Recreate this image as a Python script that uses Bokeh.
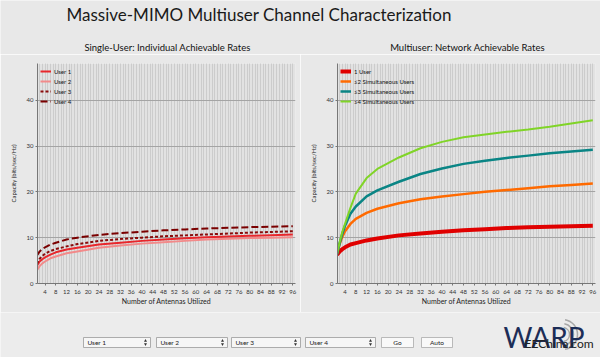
from bokeh.plotting import figure
from bokeh.models import Range1d, FixedTicker
from bokeh.layouts import column, row
from bokeh.core.properties import value
from bokeh.embed import file_html
from bokeh.resources import INLINE

FONT = "Lato"

# ---------------- data ----------------
antennas = [1, 2, 3, 4, 6, 8, 12, 16, 24, 32, 40, 48, 56, 64, 72, 80, 88, 96]

user1 = [3.9, 4.8, 5.3, 5.7, 6.3, 6.8, 7.4, 7.8, 8.5, 8.9, 9.3, 9.6, 9.85, 10.1, 10.25, 10.4, 10.55, 10.7]
user2 = [2.9, 3.8, 4.4, 4.8, 5.5, 5.9, 6.6, 7.0, 7.8, 8.3, 8.7, 9.0, 9.3, 9.6, 9.75, 9.9, 10.0, 10.1]
user3 = [4.3, 5.4, 6.0, 6.5, 7.1, 7.5, 8.1, 8.6, 9.3, 9.7, 10.0, 10.3, 10.5, 10.7, 10.9, 11.1, 11.25, 11.4]
user4 = [6.1, 7.0, 7.5, 7.9, 8.5, 8.9, 9.6, 10.0, 10.6, 11.0, 11.3, 11.6, 11.8, 12.0, 12.15, 12.3, 12.4, 12.5]

net1 = [6.25, 7.0, 7.5, 7.9, 8.5, 8.8, 9.4, 9.8, 10.5, 10.9, 11.3, 11.6, 11.85, 12.1, 12.25, 12.4, 12.5, 12.6]
net2 = [6.5, 8.6, 10.2, 11.4, 13.0, 14.1, 15.4, 16.3, 17.5, 18.4, 19.0, 19.5, 20.0, 20.4, 20.8, 21.2, 21.5, 21.8]
net3 = [6.3, 8.8, 10.9, 12.6, 15.2, 16.8, 19.0, 20.3, 22.2, 23.9, 25.1, 26.1, 26.8, 27.4, 27.9, 28.4, 28.8, 29.2]
net4 = [6.3, 9.0, 11.3, 13.0, 16.5, 19.6, 23.0, 25.0, 27.5, 29.5, 30.9, 31.9, 32.5, 33.1, 33.6, 34.2, 34.9, 35.6]

single_labels = ["User 1", "User 2", "User 3", "User 4"]
multi_labels = ["1 User", "\u22642 Simultaneous Users", "\u22643 Simultaneous Users", "\u22644 Simultaneous Users"]

x_ticks = list(range(4, 97, 4))
y_ticks = [0, 10, 20, 30, 40]

main_title = "Massive-MIMO Multiuser Channel Characterization"
chart_titles = ["Single-User: Individual Achievable Rates", "Multiuser: Network Achievable Rates"]
x_label = "Number of Antennas Utilized"
y_label = "Capacity (bits/sec/Hz)"

select_labels = ["User 1", "User 2", "User 3", "User 4"]
button_labels = ["Go", "Auto"]

BG = "#e8e8e8"


def make_chart():
    p = figure(width=300, height=258, x_range=Range1d(1.2, 97), y_range=Range1d(0, 48),
               output_backend="svg", toolbar_location=None,
               min_border_left=37, min_border_right=5,
               min_border_top=9, min_border_bottom=29,
               background_fill_color="#e2e2e2", border_fill_color=BG,
               outline_line_color=None)
    p.xaxis.ticker = FixedTicker(ticks=x_ticks, minor_ticks=list(range(1, 98)))
    p.yaxis.ticker = FixedTicker(ticks=y_ticks)
    p.xgrid.grid_line_color = "#cccccc"
    p.xgrid.minor_grid_line_color = "#cccccc"
    p.ygrid.grid_line_color = "#a4a4a4"
    for ax in (p.xaxis, p.yaxis):
        ax.major_label_text_font = FONT
        ax.major_label_text_font_size = "6px"
        ax.major_label_text_color = "#333333"
        ax.axis_line_color = "#777777"
        ax.major_tick_line_color = "#777777"
        ax.major_tick_out = 2
        ax.major_tick_in = 0
        ax.minor_tick_line_color = None
        ax.axis_label_text_font = FONT
        ax.axis_label_text_font_style = "normal"
        ax.axis_label_text_color = "#222222"
        ax.major_label_standoff = 2
    p.xaxis.axis_label = x_label
    p.xaxis.axis_label_text_font_size = "7px"
    p.xaxis.axis_label_standoff = 0
    p.yaxis.axis_label = y_label
    p.yaxis.axis_label_text_font_size = "6px"
    p.yaxis.axis_label_standoff = 7
    return p


def style_legend(p):
    lg = p.legend[0]
    lg.location = "top_left"
    lg.background_fill_alpha = 0
    lg.border_line_color = None
    lg.label_text_font = FONT
    lg.label_text_font_size = "6px"
    lg.label_text_color = "#111111"
    lg.glyph_height = 10
    lg.glyph_width = 11
    lg.label_height = 10
    lg.spacing = 0
    lg.padding = 3
    lg.margin = 3
    lg.label_standoff = 3


# ---------------- left chart ----------------
p1 = make_chart()
p1.line(antennas, user1, line_color="#e8262b", line_width=2, legend_label=single_labels[0])
p1.line(antennas, user2, line_color="#f28a8a", line_width=2, legend_label=single_labels[1])
p1.line(antennas, user3, line_color="#8a0a0a", line_width=2, line_dash="3 2", legend_label=single_labels[2])
p1.line(antennas, user4, line_color="#7a0000", line_width=2, line_dash="7 3", legend_label=single_labels[3])
style_legend(p1)

# ---------------- right chart ----------------
p2 = make_chart()
p2.line(antennas, net1, line_color="#e00000", line_width=4, legend_label=multi_labels[0])
p2.line(antennas, net2, line_color="#ff6a00", line_width=2.5, legend_label=multi_labels[1])
p2.line(antennas, net3, line_color="#0a8585", line_width=2.5, legend_label=multi_labels[2])
p2.line(antennas, net4, line_color="#80d428", line_width=2, legend_label=multi_labels[3])
style_legend(p2)

# ---------------- title strip ----------------
t = figure(width=600, height=54, x_range=Range1d(0, 600), y_range=Range1d(54, 0),
           output_backend="svg", toolbar_location=None, min_border=0,
           outline_line_color=None, border_fill_color=BG, background_fill_color=BG)
t.axis.visible = False
t.grid.visible = False
t.text(x=[66], y=[14], text=[main_title], text_align="left", text_baseline="middle",
       text_font=value(FONT), text_font_size="17px", text_color="#1a1a1a")
t.text(x=[167, 467], y=[47, 47], text=chart_titles, text_align="center", text_baseline="middle",
       text_font=value(FONT), text_font_size="9.5px", text_color="#111111")

# ---------------- control strip ----------------
b = figure(width=600, height=45, x_range=Range1d(0, 600), y_range=Range1d(357, 312),
           output_backend="svg", toolbar_location=None, min_border=0,
           outline_line_color=None, border_fill_color="#ececec", background_fill_color="#ececec")
b.axis.visible = False
b.grid.visible = False

sel_left = [83, 156, 231, 305]
sel_right = [150, 227, 300, 375]
b.quad(left=sel_left, right=sel_right, top=[337] * 4, bottom=[347] * 4,
       fill_color="#f6f6f6", line_color="#9a9a9a", line_width=0.8)
b.text(x=[l + 4 for l in sel_left], y=[342] * 4, text=select_labels, text_baseline="middle",
       text_font=value(FONT), text_font_size="6.5px", text_color="#222222")
b.scatter(x=[r - 5 for r in sel_right], y=[340.3] * 4, marker="triangle", size=3,
          fill_color="#333333", line_color=None)
b.scatter(x=[r - 5 for r in sel_right], y=[343.7] * 4, marker="inverted_triangle", size=3,
          fill_color="#333333", line_color=None)

btn_left = [381, 421]
btn_right = [413, 452]
b.quad(left=btn_left, right=btn_right, top=[337] * 2, bottom=[347] * 2,
       fill_color="#f9f9f9", line_color="#aaaaaa", line_width=0.8)
b.text(x=[(l + r) / 2 for l, r in zip(btn_left, btn_right)], y=[342] * 2, text=button_labels,
       text_align="center", text_baseline="middle",
       text_font=value(FONT), text_font_size="6.5px", text_color="#222222")

b.arc(x=[562, 562, 562], y=[334, 334, 334], radius=[7, 11, 15], start_angle=-1.4, end_angle=1.4,
      line_color="#a8a8a8", line_width=1.5)
b.text(x=[503], y=[336], text=["WARP"], text_baseline="middle",
       text_font=value(FONT), text_font_size="28px", text_color="#1c2d57")
b.text(x=[524], y=[343], text=["EEChina.com"], text_baseline="middle",
       text_font=value(FONT), text_font_size="12px", text_color="#222222")

layout = column(t, row(p1, p2, spacing=0), b, spacing=0)
open("out.html", "w").write(file_html(layout, INLINE))
